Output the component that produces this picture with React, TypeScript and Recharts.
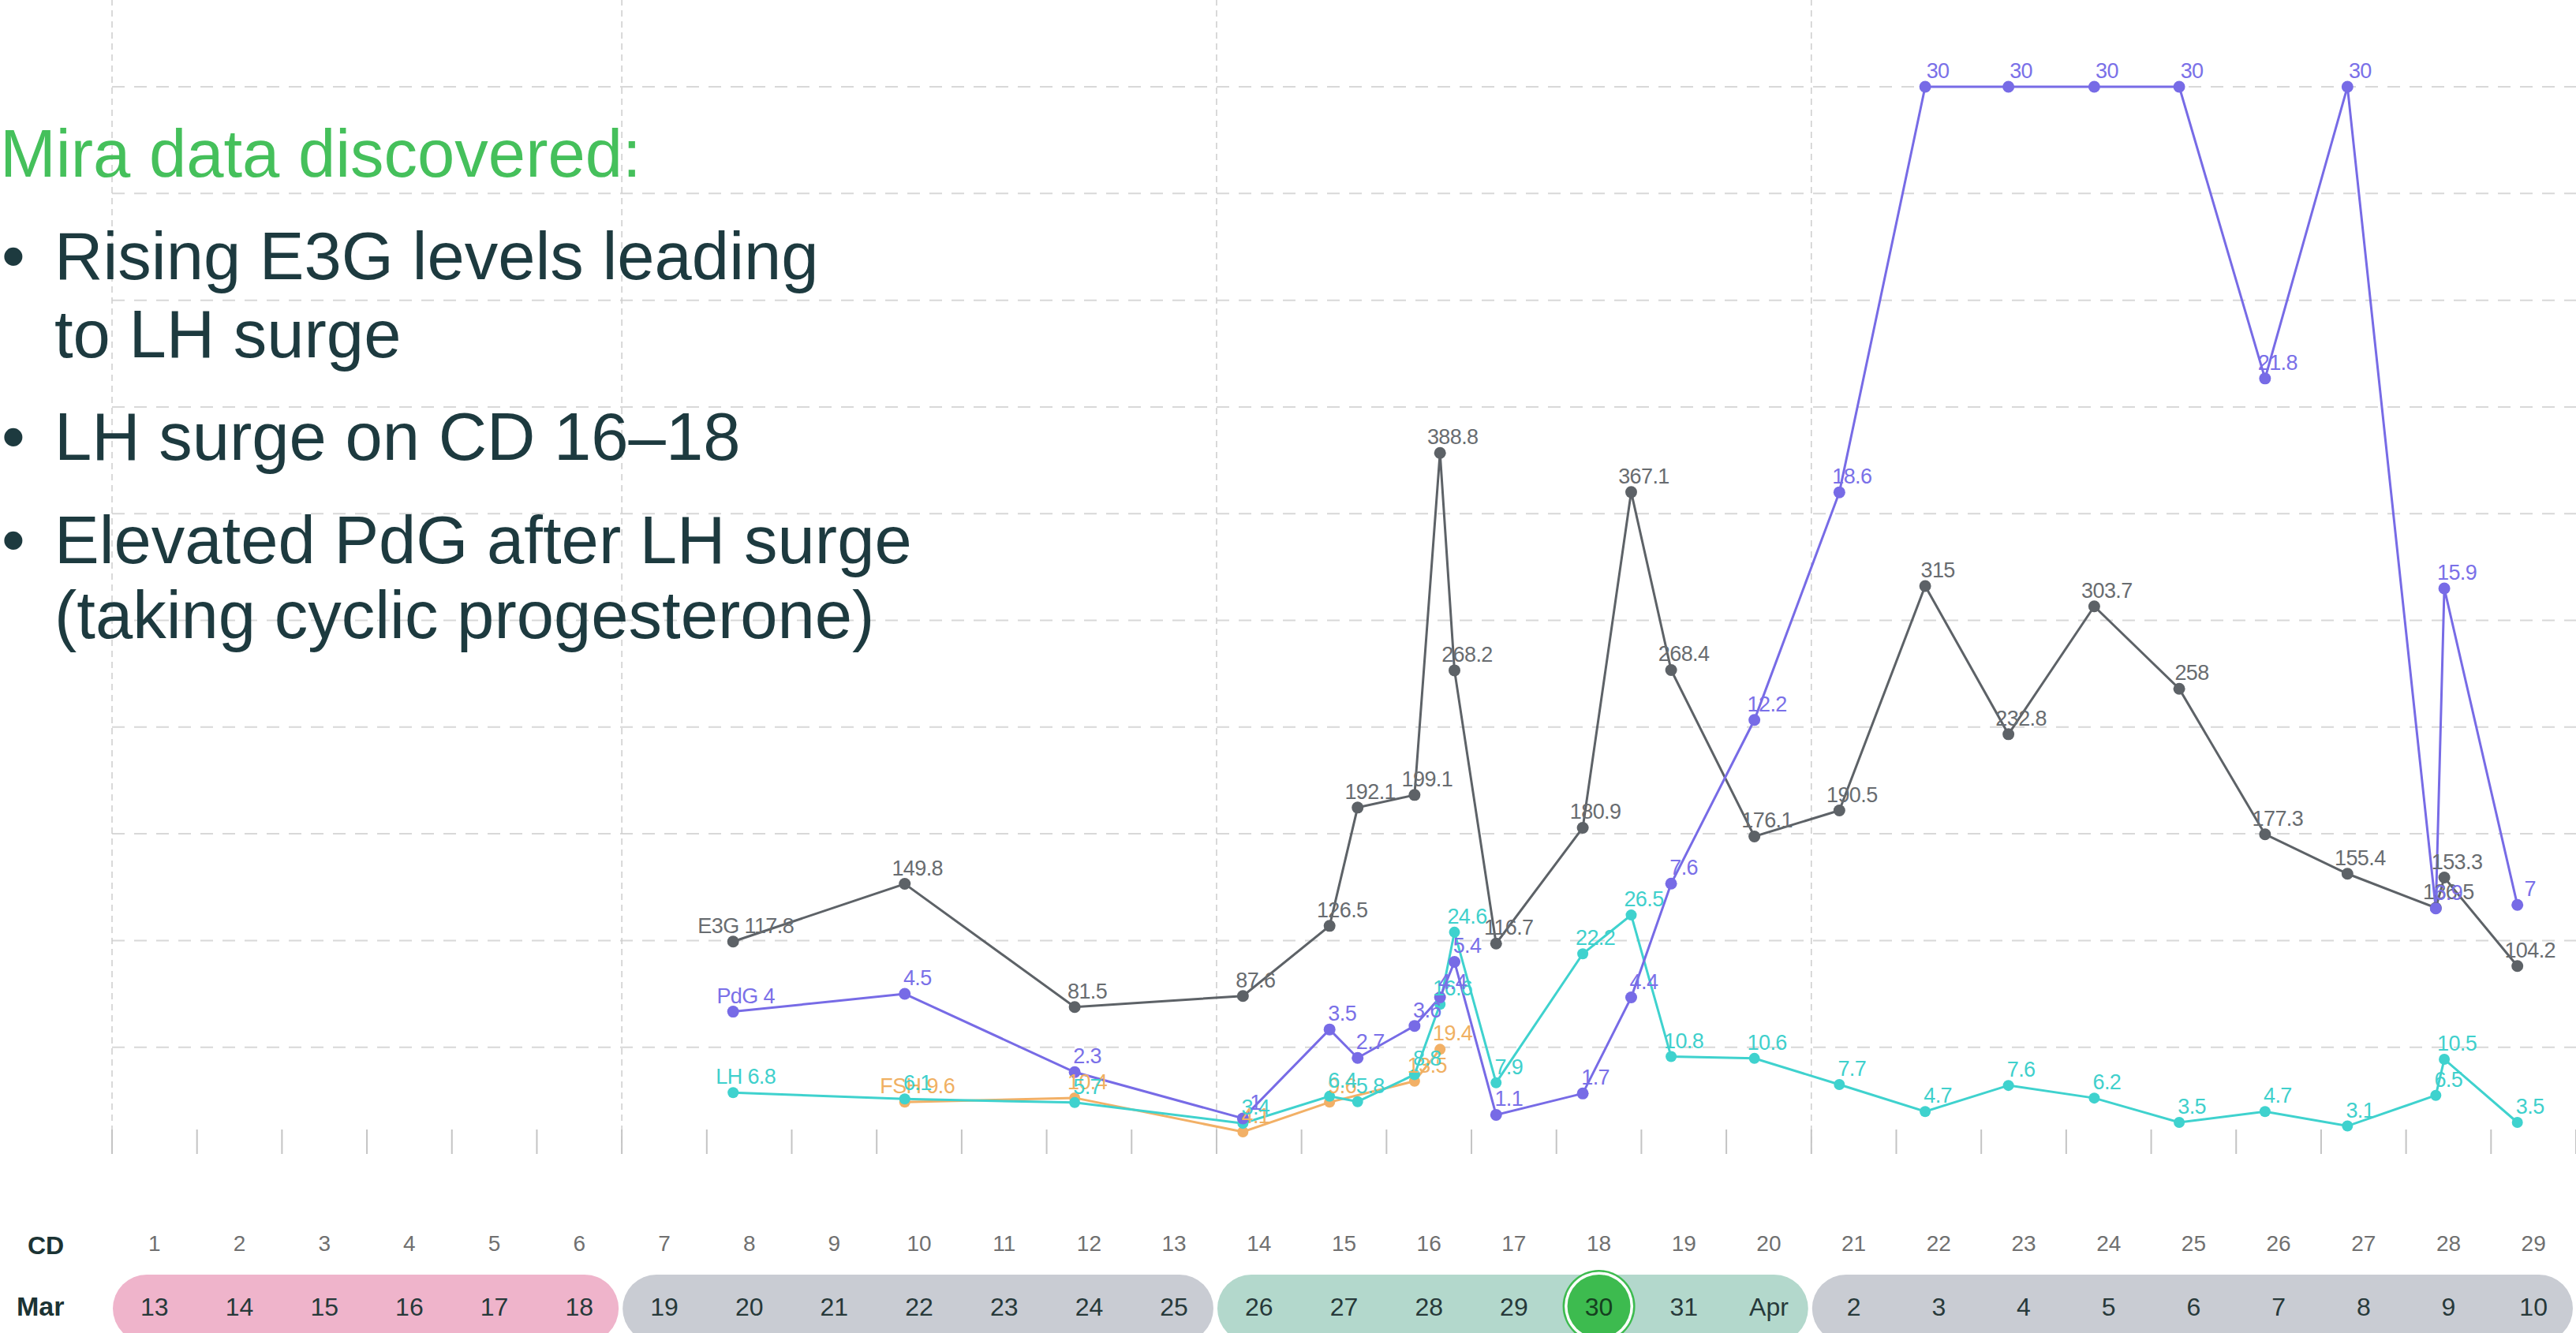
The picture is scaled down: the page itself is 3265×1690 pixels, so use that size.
import { ComposedChart, Line, XAxis, YAxis, CartesianGrid, ReferenceLine, LabelList } from "recharts";

const CHART_W = 3265;
const CHART_H = 1690;
const MARGIN_LEFT = 142;
const AXIS_H = 227;
const DAY_W = (CHART_W - MARGIN_LEFT) / 29;

const FONT = '"Liberation Sans", Arial, sans-serif';

// test times in cycle days (day n spans n-0.5 .. n+0.5)
const TEST_DAYS = [
  7.81, 9.83, 11.83, 13.81, 14.83, 15.16, 15.83, 16.13, 16.3, 16.79, 17.81, 18.38,
  18.85, 19.83, 20.83, 21.84, 22.82, 23.83, 24.83, 25.84, 26.81, 27.85, 27.95, 28.81,
];
const E3G = [
  117.8, 149.8, 81.5, 87.6, 126.5, 192.1, 199.1, 388.8, 268.2, 116.7, 180.9, 367.1,
  268.4, 176.1, 190.5, 315, 232.8, 303.7, 258, 177.3, 155.4, 136.5, 153.3, 104.2,
];
const PDG = [
  4, 4.5, 2.3, 1, 3.5, 2.7, 3.6, 4.4, 5.4, 1.1, 1.7, 4.4,
  7.6, 12.2, 18.6, 30, 30, 30, 30, 21.8, 30, 6.9, 15.9, 7,
];
const LH = [
  6.8, 6.1, 5.7, 3.4, 6.4, 5.8, 8.8, 16.6, 24.6, 7.9, 22.2, 26.5,
  10.8, 10.6, 7.7, 4.7, 7.6, 6.2, 3.5, 4.7, 3.1, 6.5, 10.5, 3.5,
];
const FSH = [
  null, 9.6, 10.4, 4.1, 9.6, null, 13.5, 19.4, null, null, null, null,
  null, null, null, null, null, null, null, null, null, null, null, null,
];

const CYCLE_DAYS = [1, 2, 3, 4, 5, 6, 7, 8, 9, 10, 11, 12, 13, 14, 15, 16, 17, 18, 19, 20, 21, 22, 23, 24, 25, 26, 27, 28, 29];
const DATE_LABELS = [
  "13", "14", "15", "16", "17", "18", "19", "20", "21", "22", "23", "24", "25", "26", "27",
  "28", "29", "30", "31", "Apr", "2", "3", "4", "5", "6", "7", "8", "9", "10",
];
const PHASES = [
  { first: 1, last: 6, fill: "#efb4cb" },
  { first: 7, last: 13, fill: "#c9ccd3" },
  { first: 14, last: 20, fill: "#b3d8cc" },
  { first: 21, last: 29, fill: "#c9ccd3" },
];
const PHASE_LINES = [0.5, 6.5, 13.5, 20.5];
const PDG_GRID = [3, 6, 9, 12, 15, 18, 21, 24, 27, 30];
const TODAY = 18;

const DAY_TICKS = CYCLE_DAYS.flatMap((d) => [d - 0.5, d]).concat([29.5]);

const data = TEST_DAYS.map((day, i) => ({
  day,
  e3g: E3G[i],
  pdg: PDG[i],
  lh: LH[i],
  fsh: FSH[i],
}));

const COLORS = {
  e3g: "#5d6267",
  pdg: "#776be6",
  lh: "#3fd2ce",
  fsh: "#f2b066",
};
const LABEL_COLORS = {
  e3g: "#686c70",
  pdg: "#7a70e8",
  lh: "#3fd0cc",
  fsh: "#f0b062",
};

function makeLabel(values: (number | null)[], prefix: string, color: string) {
  const first = values.findIndex((v) => v != null);
  return (props: any) => {
    const { x, y, value, index } = props;
    if (value == null || x == null || y == null) return null;
    const text = index === first ? `${prefix} ${value}` : String(value);
    return (
      <text
        x={x + 16}
        y={y - 11}
        textAnchor="middle"
        fill={color}
        fontSize={27}
        letterSpacing={-0.6}
        fontFamily={FONT}
      >
        {text}
      </text>
    );
  };
}

function DayTick(props: any) {
  const { x, y, payload } = props;
  const v = payload.value as number;
  if (!Number.isInteger(v)) {
    return <line x1={x} x2={x} y1={y} y2={y - 31} stroke="#c4c4c4" strokeWidth={2} />;
  }
  const phase = PHASES.find((p) => p.first === v);
  const label = DATE_LABELS[v - 1];
  return (
    <g>
      <text x={x} y={y + 123} textAnchor="middle" fontSize={28} fill="#707070" fontFamily={FONT}>
        {v}
      </text>
      {phase && (
        <rect
          x={x - DAY_W / 2 + 1}
          y={y + 153}
          width={(phase.last - phase.first + 1) * DAY_W - 5}
          height={86}
          rx={43}
          fill={phase.fill}
        />
      )}
      {v === TODAY && (
        <g>
          <circle cx={x} cy={y + 193} r={46} fill="#3dbb4f" />
          <circle cx={x} cy={y + 193} r={43.5} fill="#ffffff" />
          <circle cx={x} cy={y + 193} r={40} fill="#3dbb4f" />
        </g>
      )}
      <text
        x={x}
        y={y + 205}
        textAnchor="middle"
        fontSize={32}
        fill={v === TODAY ? "#15401f" : "#27393a"}
        fontFamily={FONT}
      >
        {label}
      </text>
    </g>
  );
}

export default function App() {
  return (
    <div
      style={{
        position: "absolute",
        left: 0,
        top: 0,
        width: CHART_W,
        height: CHART_H,
        background: "#ffffff",
        overflow: "hidden",
      }}
    >
      <ComposedChart
        width={CHART_W}
        height={CHART_H}
        data={data}
        margin={{ top: 0, right: 0, bottom: 0, left: MARGIN_LEFT }}
      >
        <CartesianGrid
          xAxisId="day"
          yAxisId="pdg"
          vertical={false}
          horizontalValues={PDG_GRID}
          syncWithTicks
          stroke="#d8d8d8"
          strokeWidth={2}
          strokeDasharray="16 12"
        />
        <XAxis
          xAxisId="day"
          dataKey="day"
          type="number"
          domain={[0.5, 29.5]}
          allowDataOverflow
          ticks={DAY_TICKS}
          interval={0}
          height={AXIS_H}
          axisLine={false}
          tickLine={false}
          tickSize={0}
          tickMargin={0}
          tick={<DayTick />}
        />
        <YAxis yAxisId="pdg" hide type="number" domain={[0, 32.44]} allowDataOverflow ticks={PDG_GRID} />
        <YAxis yAxisId="e3g" hide type="number" domain={[0, 640]} allowDataOverflow />
        <YAxis yAxisId="lh" hide type="number" domain={[0, 128]} allowDataOverflow />
        <YAxis yAxisId="fsh" hide type="number" domain={[0, 214]} allowDataOverflow />

        {PHASE_LINES.map((px) => (
          <ReferenceLine
            key={px}
            x={px}
            xAxisId="day"
            yAxisId="pdg"
            stroke="#cdcdcd"
            strokeWidth={1.5}
            strokeDasharray="8 6"
          />
        ))}

        <Line
          xAxisId="day"
          yAxisId="fsh"
          dataKey="fsh"
          type="linear"
          stroke={COLORS.fsh}
          strokeWidth={3}
          connectNulls
          dot={{ r: 7, fill: COLORS.fsh, stroke: COLORS.fsh, strokeWidth: 0 }}
          isAnimationActive={false}
        >
          <LabelList dataKey="fsh" content={makeLabel(FSH, "FSH", LABEL_COLORS.fsh)} />
        </Line>
        <Line
          xAxisId="day"
          yAxisId="lh"
          dataKey="lh"
          type="linear"
          stroke={COLORS.lh}
          strokeWidth={3}
          dot={{ r: 7, fill: COLORS.lh, stroke: COLORS.lh, strokeWidth: 0 }}
          isAnimationActive={false}
        >
          <LabelList dataKey="lh" content={makeLabel(LH, "LH", LABEL_COLORS.lh)} />
        </Line>
        <Line
          xAxisId="day"
          yAxisId="e3g"
          dataKey="e3g"
          type="linear"
          stroke={COLORS.e3g}
          strokeWidth={3}
          dot={{ r: 7.5, fill: COLORS.e3g, stroke: COLORS.e3g, strokeWidth: 0 }}
          isAnimationActive={false}
        >
          <LabelList dataKey="e3g" content={makeLabel(E3G, "E3G", LABEL_COLORS.e3g)} />
        </Line>
        <Line
          xAxisId="day"
          yAxisId="pdg"
          dataKey="pdg"
          type="linear"
          stroke={COLORS.pdg}
          strokeWidth={3}
          dot={{ r: 7.5, fill: COLORS.pdg, stroke: COLORS.pdg, strokeWidth: 0 }}
          isAnimationActive={false}
        >
          <LabelList dataKey="pdg" content={makeLabel(PDG, "PdG", LABEL_COLORS.pdg)} />
        </Line>
      </ComposedChart>

      <svg
        width={CHART_W}
        height={CHART_H}
        style={{ position: "absolute", left: 0, top: 0, pointerEvents: "none" }}
        fontFamily={FONT}
      >
        <text x={0} y={224} fontSize={85} fill="#45c05b">
          Mira data discovered:
        </text>
        <g fontSize={85} fill="#1d3a3f">
          <text x={2} y={354}>•</text>
          <text x={69} y={354}>Rising E3G levels leading</text>
          <text x={69} y={453}>to LH surge</text>
          <text x={2} y={583}>•</text>
          <text x={69} y={583}>LH surge on CD 16–18</text>
          <text x={2} y={714}>•</text>
          <text x={69} y={714}>Elevated PdG after LH surge</text>
          <text x={69} y={809}>(taking cyclic progesterone)</text>
        </g>
        <text x={35} y={1590} fontSize={32} fontWeight="bold" fill="#1b3334">
          CD
        </text>
        <text x={21} y={1668} fontSize={34} fontWeight="bold" fill="#1b3334">
          Mar
        </text>
      </svg>
    </div>
  );
}
